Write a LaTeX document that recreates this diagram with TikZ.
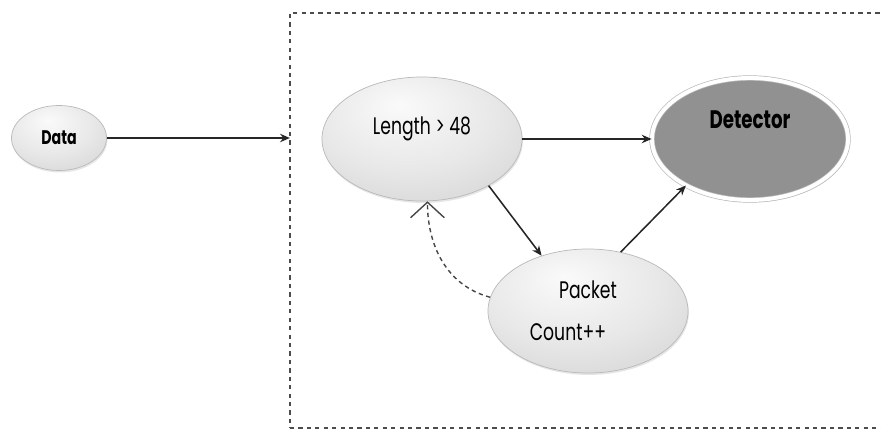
\documentclass[tikz,border=0pt]{standalone}
\usepackage{fontspec}
\newfontfamily\gothic[FakeStretch=0.72]{Poppins}
\definecolor{pearltop}{gray}{0.98}
\definecolor{pearlmid}{gray}{0.91}
\definecolor{pearledge}{gray}{0.79}
\definecolor{detfill}{gray}{0.57}
\definecolor{boxline}{gray}{0.3}
\usetikzlibrary{positioning, shapes.geometric, arrows.meta, shadows}
\pgfdeclareradialshading{pearl}{\pgfpoint{-6bp}{14bp}}{color(0bp)=(pearltop); color(22bp)=(pearlmid); color(50bp)=(pearledge); color(70bp)=(pearledge)}

\begin{document}
\begin{tikzpicture}[
    x=0.025cm, y=-0.025cm,
    >={Stealth[length=7pt, width=6pt]},
    font=\gothic\fontsize{17}{20}\selectfont,
    bubble/.style={ellipse, draw=gray!55, line width=0.5pt, shading=pearl, drop shadow={opacity=0.2, shadow xshift=0.6pt, shadow yshift=-1.4pt}, minimum width=5cm, minimum height=3.1cm, inner sep=0pt},
    detector/.style={ellipse, draw=gray!55, double=white, double distance=2.8pt, line width=0.5pt, fill=detfill, drop shadow={opacity=0.3, shadow xshift=1.2pt, shadow yshift=-1.6pt}, minimum width=4.9cm, minimum height=3.05cm, inner sep=0pt},
    frame/.style={draw=boxline, line width=0.9pt, dash pattern=on 3pt off 3pt, minimum width=20cm, minimum height=10.375cm, inner sep=0pt, outer sep=0pt},
    flow/.style={->, line width=1.1pt, black!85},
    feedback/.style={-{Straight Barb[length=11pt, width=24pt]}, dash pattern=on 3pt off 2.5pt, line width=1pt, black!72}
]
    \useasboundingbox (0,0) rectangle (881,433);
    \clip (0,0) rectangle (881,433);

    \node[frame] (zone) at (690,220.5) {};

    \node[bubble, minimum width=2.375cm, minimum height=1.625cm, font=\gothic\bfseries\fontsize{14}{17}\selectfont] (data) at (59,138) {Data};
    \node[bubble] (len) at (422,139) {\raisebox{0.12cm}[0pt][0pt]{Length > 48}};
    \node[detector] (det) at (750,139) {\raisebox{0.25cm}[0pt][0pt]{\bfseries\fontsize{18}{21}\selectfont Detector}};
    \node[bubble, align=center, font=\gothic\fontsize{17}{30}\selectfont] (pkt) at (588,311) {Packet\\Count++\hspace*{1cm}};

    \draw[flow] (data) -- (data -| zone.west);
    \draw[flow] (len) -- (det);
    \draw[flow] (len.-35.5) -- (pkt.130.6);
    \draw[flow] (pkt.61.5) -- (det.-144);
    \draw[feedback] (pkt.172) to[out=165, in=-90] (len.-85);
\end{tikzpicture}
\end{document}
